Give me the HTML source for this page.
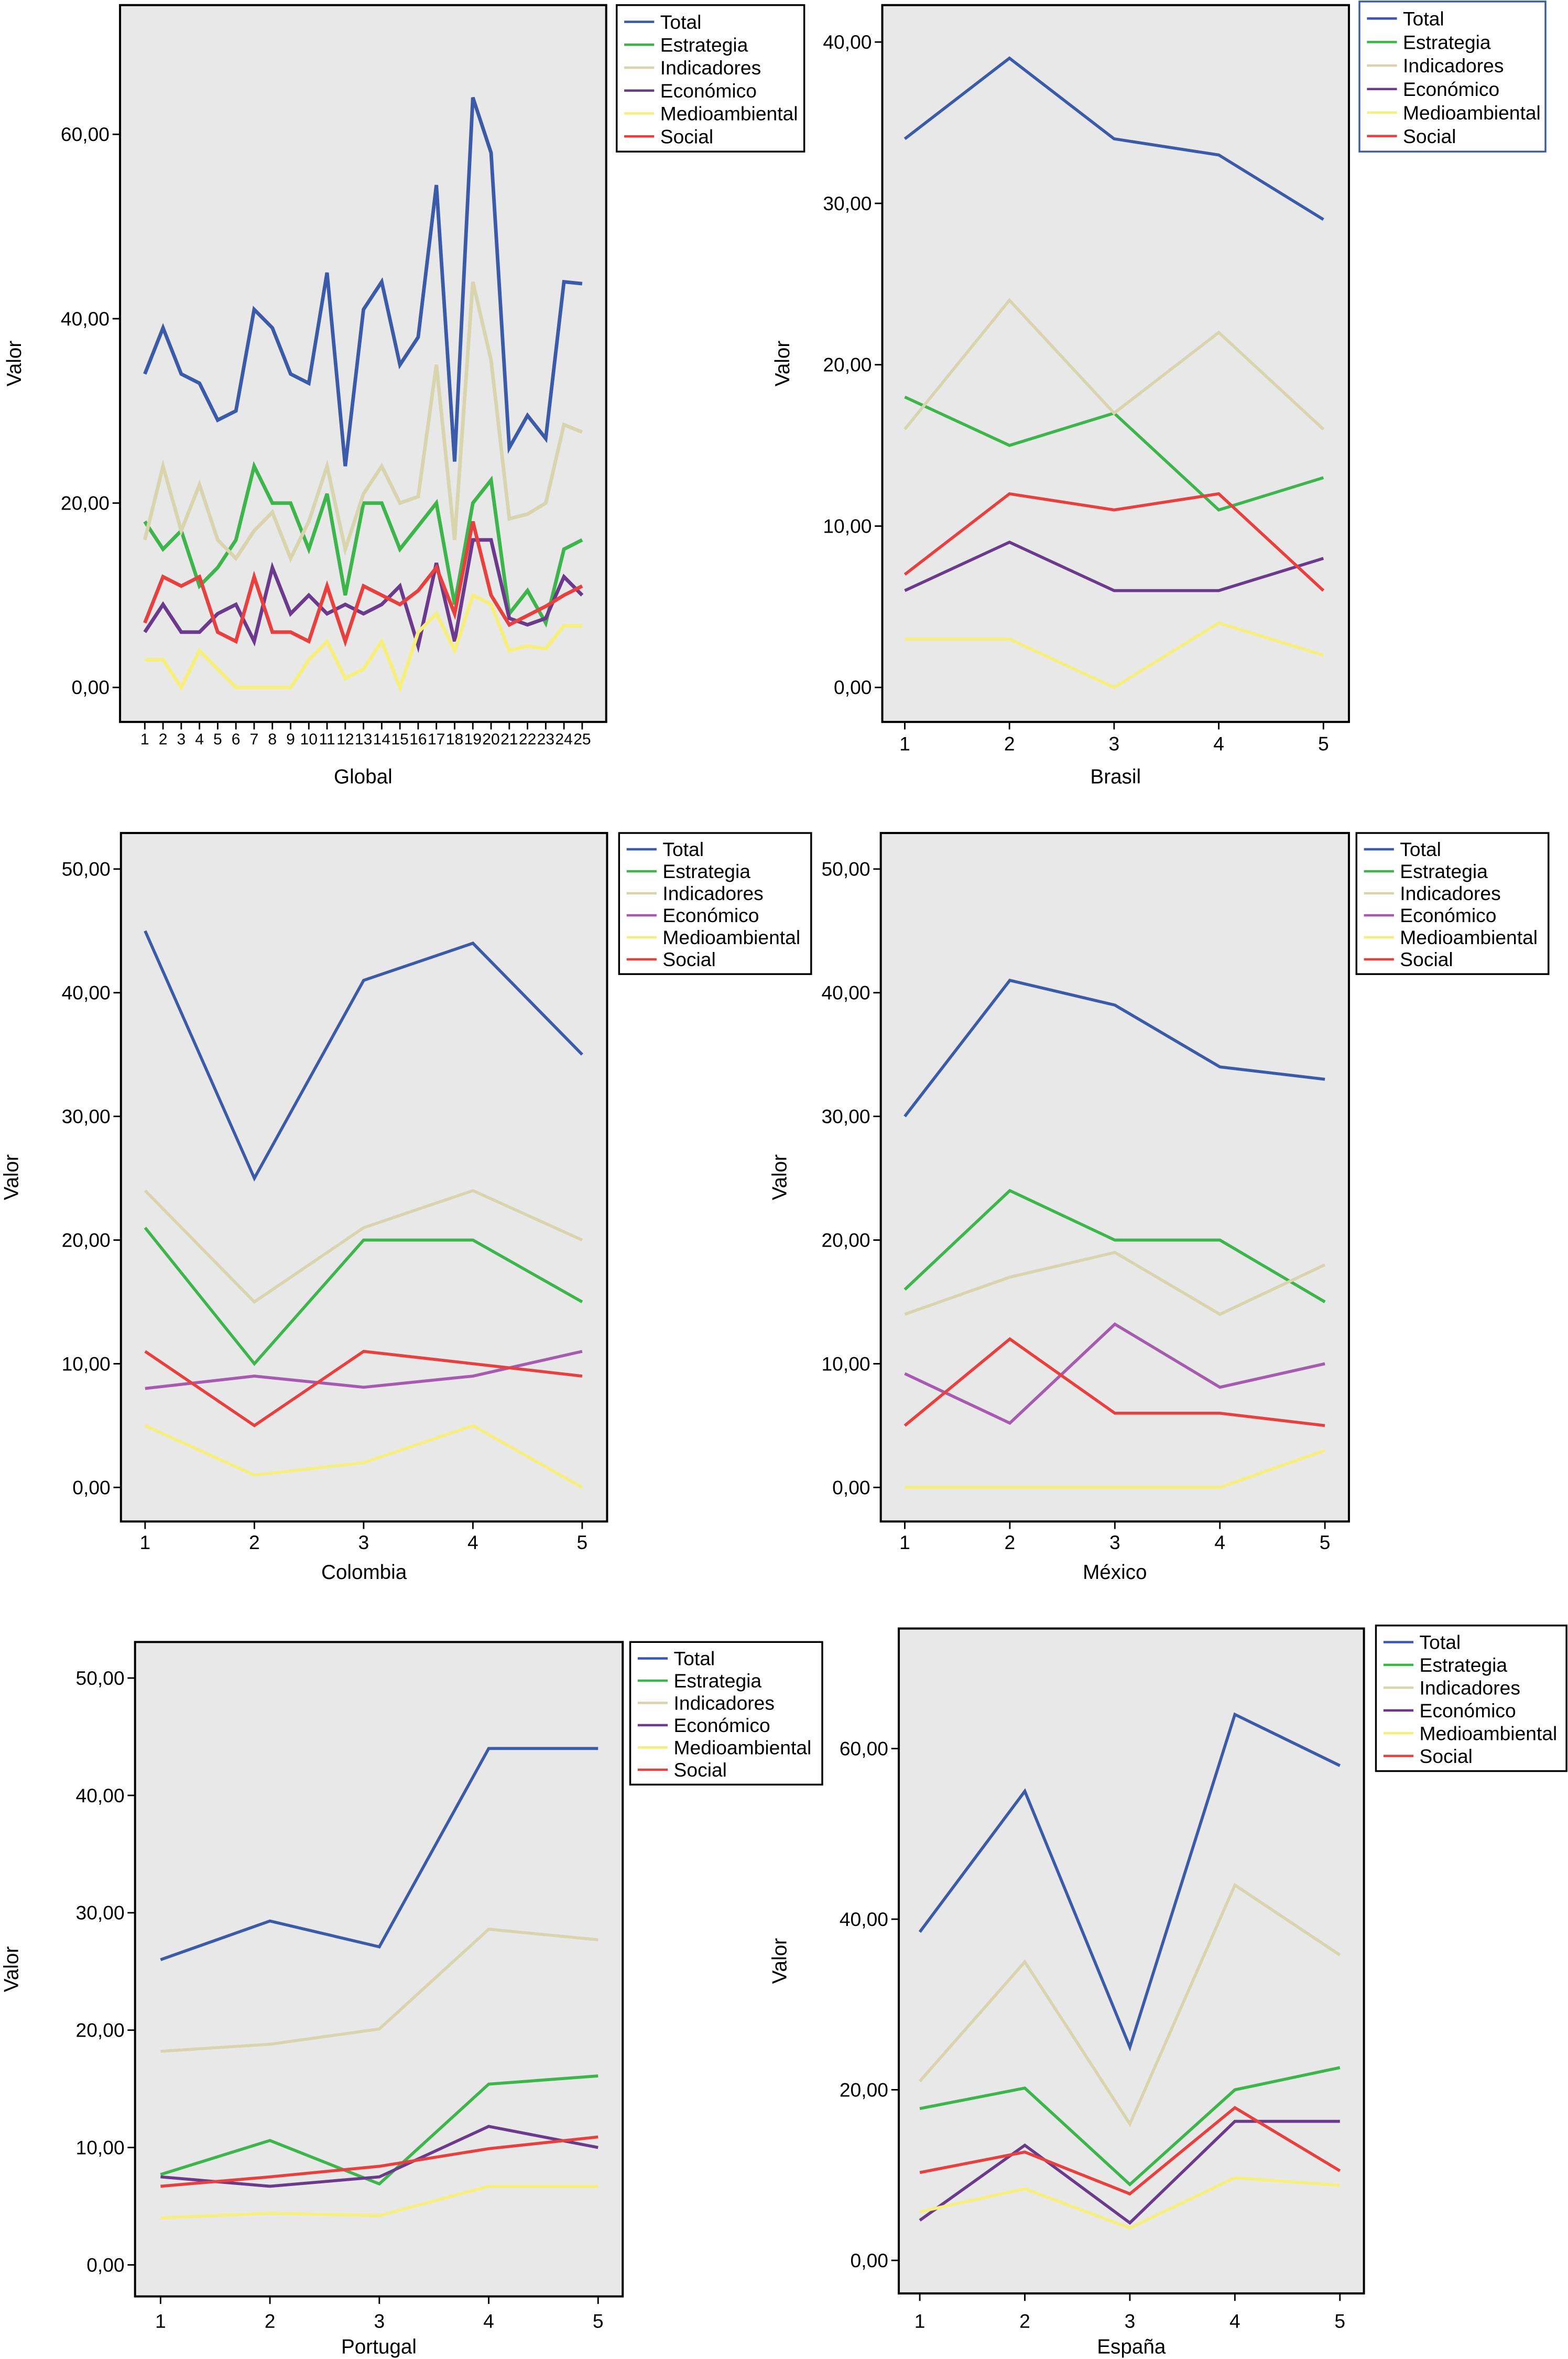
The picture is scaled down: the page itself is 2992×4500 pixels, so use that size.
<!DOCTYPE html>
<html><head><meta charset="utf-8">
<style>
html,body{margin:0;padding:0;background:#fff;}
svg{display:block;font-family:"Liberation Sans",Arial,sans-serif;}
</style></head>
<body>
<svg id="chart" width="2992" height="4500" viewBox="0 0 1045 1571.7" xmlns="http://www.w3.org/2000/svg"></svg>
<script>
const seriesNames = ["Total","Estrategia","Indicadores","Económico","Medioambiental","Social"];
const globalCats = [1,2,3,4,5,6,7,8,9,10,11,12,13,14,15,16,17,18,19,20,21,22,23,24,25];
const fiveCats = [1,2,3,4,5];

const globalTotal = [34,39,34,33,29,30,41,39,34,33,45,24,41,44,35,38,54.5,24.5,64,58,26,29.5,27,44,43.8];
const globalEstrategia = [18,15,17,11,13,16,24,20,20,15,21,10,20,20,15,17.5,20,9,20,22.5,8,10.5,7,15,16];
const globalIndicadores = [16,24,17,22,16,14,17,19,14,18,24,15,21,24,20,20.7,35,16,44,35.5,18.3,18.8,20,28.5,27.7];
const globalEconomico = [6,9,6,6,8,9,5,13,8,10,8,9,8,9,11,4.5,13.5,5,16,16,7.5,6.8,7.5,12,10];
const globalMedio = [3,3,0,4,2,0,0,0,0,3,5,1,2,5,0,6,8,4,10,9,4,4.5,4.2,6.7,6.7];
const globalSocial = [7,12,11,12,6,5,12,6,6,5,11,5,11,10,9,10.5,13,8,18,10,6.8,7.8,8.8,10,11];

const brasilTotal = [34,39,34,33,29];
const brasilEstrategia = [18,15,17,11,13];
const brasilIndicadores = [16,24,17,22,16];
const brasilEconomico = [6,9,6,6,8];
const brasilMedio = [3,3,0,4,2];
const brasilSocial = [7,12,11,12,6];

const colombiaTotal = [45,25,41,44,35];
const colombiaEstrategia = [21,10,20,20,15];
const colombiaIndicadores = [24,15,21,24,20];
const colombiaEconomico = [8,9,8.1,9,11];
const colombiaMedio = [5,1,2,5,0];
const colombiaSocial = [11,5,11,10,9];

const mexicoTotal = [30,41,39,34,33];
const mexicoEstrategia = [16,24,20,20,15];
const mexicoIndicadores = [14,17,19,14,18];
const mexicoEconomico = [9.2,5.2,13.2,8.1,10];
const mexicoMedio = [0,0,0,0,3];
const mexicoSocial = [5,12,6,6,5];

const portugalTotal = [26,29.3,27.1,44,44];
const portugalEstrategia = [7.7,10.6,6.9,15.4,16.1];
const portugalIndicadores = [18.2,18.8,20.1,28.6,27.7];
const portugalEconomico = [7.5,6.7,7.5,11.8,10];
const portugalMedio = [4,4.4,4.2,6.7,6.7];
const portugalSocial = [6.7,7.5,8.4,9.9,10.9];

const espanaTotal = [38.5,55,25,64,58];
const espanaEstrategia = [17.8,20.2,8.9,20,22.6];
const espanaIndicadores = [21,35,16,44,35.8];
const espanaEconomico = [4.7,13.5,4.4,16.3,16.3];
const espanaMedio = [5.7,8.4,3.8,9.7,8.8];
const espanaSocial = [10.3,12.7,7.8,17.9,10.5];

const ticks60 = [0,20,40,60];
const ticks40 = [0,10,20,30,40];
const ticks50 = [0,10,20,30,40,50];

const NS = "http://www.w3.org/2000/svg";
const svg = document.getElementById("chart");
function el(tag, attrs, parent){
  const e = document.createElementNS(NS, tag);
  for (const k in attrs) e.setAttribute(k, attrs[k]);
  (parent||svg).appendChild(e);
  return e;
}
const baseColors = ["#3b5ba9","#3cb54b","#d7d4ae","#6c3a8d","#f6ef7c","#e8403f"];

function panel(p){
  const g = el("g", {});
  
  
  const colors = baseColors.slice();
  if (p.ecoColor) colors[3] = p.ecoColor;
  const bg = el("rect", {x:p.fx0, y:p.fy0, width:p.fx1-p.fx0, height:p.fy1-p.fy0, fill:"#e8e8e8", stroke:"#000", "stroke-width":1.4}, g);
  
  
  const ymax = p.ticks[p.ticks.length-1];
  const yS = v => p.y0 + (p.yMax - p.y0) * v / ymax;
  const n = p.cats.length;
  const xS = i => p.x1 + (p.xN - p.x1) * i / (n - 1);
  // y ticks
  p.ticks.forEach(t => {
    const y = yS(t);
    el("line", {x1:p.fx0-5, x2:p.fx0, y1:y, y2:y, stroke:"#000", "stroke-width":1}, g);
    const tx = el("text", {x:p.fx0-7, y:y+4.5, "text-anchor":"end", "font-size":13}, g);
    tx.textContent = t.toFixed(2).replace(".", ",");
    
    
  });
  // x ticks
  p.cats.forEach((c,i) => {
    const x = xS(i);
    el("line", {x1:x, x2:x, y1:p.fy1, y2:p.fy1+5, stroke:"#000", "stroke-width":1}, g);
    const tx = el("text", {x:x, y:p.xLabY, "text-anchor":"middle", "font-size":p.xFont}, g);
    tx.textContent = c;
    
    
  });
  const title = el("text", {x:(p.fx0+p.fx1)/2, y:p.titleY, "text-anchor":"middle", "font-size":13.5}, g);
  title.textContent = p.title;
  
  
  const yt = el("text", {x:0, y:0, "text-anchor":"middle", "font-size":13.5, transform:`translate(${p.valX},${(p.fy0+p.fy1)/2}) rotate(-90)`}, g);
  yt.textContent = "Valor";
  
  
  // series
  p.series.forEach((arr, s) => {
    const pts = arr.map((v,i) => xS(i).toFixed(2) + "," + yS(v).toFixed(2)).join(" ");
    const pl = el("polyline", {points:pts, fill:"none", stroke:colors[s], "stroke-width":p.lw, "stroke-linejoin":"miter"}, g);
    
    
  });
  // legend
  const lg = el("g", {}, g);
  
  
  el("rect", {x:p.lx0, y:p.ly0, width:p.lx1-p.lx0, height:p.ly1-p.ly0, fill:"#fff", stroke:p.legendStroke||"#000", "stroke-width":1.2}, lg);
  const step = (p.ly1 - p.ly0 - 6) / 6;
  seriesNames.forEach((nm, s) => {
    const cy = p.ly0 + 3 + step*(s+0.5) + 0.5;
    el("line", {x1:p.lx0+5, x2:p.lx0+25, y1:cy, y2:cy, stroke:colors[s], "stroke-width":1.6}, lg);
    const t = el("text", {x:p.lx0+29, y:cy+4.6, "font-size":13}, lg);
    t.textContent = nm;
    
    
  });
}

panel({key:"global", title:"Global", cats:globalCats, ticks:ticks60,
  series:[globalTotal,globalEstrategia,globalIndicadores,globalEconomico,globalMedio,globalSocial],
  fx0:80, fy0:3.4, fx1:404, fy1:481, y0:458, yMax:89.5, x1:96.5, xN:388, xLabY:496, xFont:10.5, titleY:522, valX:14,
  lx0:411, ly0:3.4, lx1:536, ly1:101, lw:2.4});
panel({key:"brasil", title:"Brasil", cats:fiveCats, ticks:ticks40,
  series:[brasilTotal,brasilEstrategia,brasilIndicadores,brasilEconomico,brasilMedio,brasilSocial],
  fx0:588, fy0:3.4, fx1:899, fy1:481, y0:458, yMax:28, x1:603, xN:882, xLabY:500, xFont:13, titleY:522, valX:526,
  lx0:906, ly0:1, lx1:1030, ly1:101, lw:2, legendStroke:"#3b5ba9"});
panel({key:"colombia", title:"Colombia", cats:fiveCats, ticks:ticks50,
  series:[colombiaTotal,colombiaEstrategia,colombiaIndicadores,colombiaEconomico,colombiaMedio,colombiaSocial],
  fx0:80.6, fy0:555, fx1:404.6, fy1:1013.7, y0:991, yMax:579, x1:96.7, xN:388, xLabY:1032, xFont:13, titleY:1052, valX:12,
  lx0:412.6, ly0:555, lx1:540.6, ly1:649, lw:2, ecoColor:"#a65bb0"});
panel({key:"mexico", title:"México", cats:fiveCats, ticks:ticks50,
  series:[mexicoTotal,mexicoEstrategia,mexicoIndicadores,mexicoEconomico,mexicoMedio,mexicoSocial],
  fx0:587, fy0:555, fx1:899, fy1:1013.7, y0:991, yMax:579, x1:603, xN:883, xLabY:1032, xFont:13, titleY:1052, valX:524,
  lx0:904, ly0:555, lx1:1032, ly1:649, lw:2, ecoColor:"#a65bb0"});
panel({key:"portugal", title:"Portugal", cats:fiveCats, ticks:ticks50,
  series:[portugalTotal,portugalEstrategia,portugalIndicadores,portugalEconomico,portugalMedio,portugalSocial],
  fx0:90, fy0:1094, fx1:415, fy1:1530, y0:1509, yMax:1118, x1:107, xN:398.6, xLabY:1551, xFont:13, titleY:1568, valX:12,
  lx0:420, ly0:1094, lx1:548, ly1:1189, lw:2});
panel({key:"espana", title:"España", cats:fiveCats, ticks:ticks60,
  series:[espanaTotal,espanaEstrategia,espanaIndicadores,espanaEconomico,espanaMedio,espanaSocial],
  fx0:599, fy0:1085, fx1:909, fy1:1528, y0:1506, yMax:1165, x1:613, xN:893, xLabY:1551, xFont:13, titleY:1568, valX:524,
  lx0:917, ly0:1083, lx1:1044, ly1:1180, lw:2});
</script>
</body></html>
